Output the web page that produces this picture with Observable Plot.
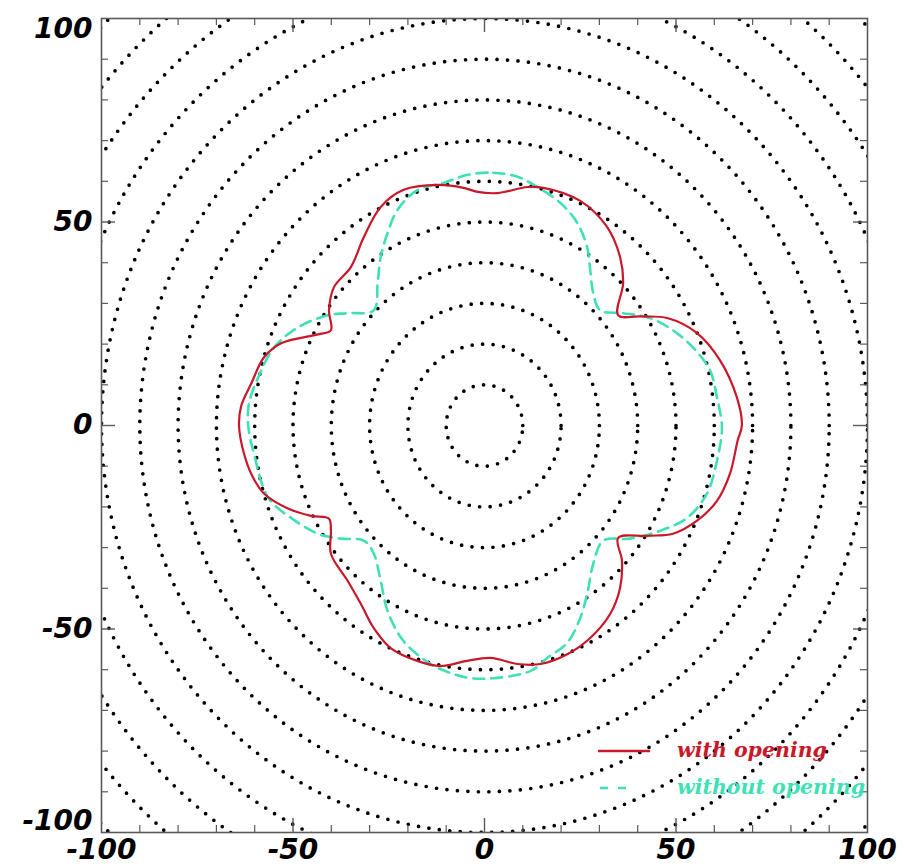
<!DOCTYPE html>
<html>
<head>
<meta charset="utf-8">
<script src="https://cdn.jsdelivr.net/npm/d3@7"></script>
<script src="https://cdn.jsdelivr.net/npm/@observablehq/plot@0.6"></script>
<style>
  html, body { margin: 0; padding: 0; background: #fff; }
  #wrap { position: relative; width: 904px; height: 867px; }
  #legend { position: absolute; left: 0; top: 0; width: 904px; height: 867px; pointer-events: none; }
  .lg { position: absolute; font-family: "DejaVu Serif", serif; font-weight: bold; font-style: italic; font-size: 20.5px; line-height: 1; white-space: nowrap; }
</style>
</head>
<body>
<div id="wrap"></div>
<script>
// ---- data ----
const redX = [-1.8, 3.4, 11.2, 15.4, 25.0, 32.0, 35.4, 36.2, 34.9, 40.6, 47.7, 55.5, 61.5, 65.9, 67.2, 66.1, 64.1, 60.7, 55.5, 49.2, 42.4, 34.9, 35.9, 35.4, 32.8, 27.6, 21.6, 14.6, 8.6, 1.6, -4.9, -11.5, -17.4, -24.5, -28.9, -32.3, -35.7, -40.1, -40.1, -40.6, -45.3, -51.3, -57.6, -60.7, -62.8, -64.1, -63.5, -60.9, -57.6, -53.1, -43.5, -40.1, -40.6, -39.3, -34.9, -31.5, -27.1, -21.1, -12.2, -5.5];
const redY = [57.4, 57.1, 58.6, 58.4, 55.2, 48.8, 41.4, 35.0, 27.1, 26.8, 26.4, 22.7, 16.0, 6.9, 0.0, -3.7, -11.8, -18.5, -23.4, -26.6, -27.1, -27.6, -33.3, -39.9, -46.3, -52.2, -56.2, -58.6, -58.6, -57.1, -57.9, -59.1, -57.9, -54.7, -49.8, -43.8, -38.2, -31.5, -25.9, -22.9, -22.2, -20.4, -16.7, -12.3, -6.9, 0.0, 4.9, 10.3, 16.7, 20.2, 22.4, 23.4, 28.3, 34.0, 38.9, 46.3, 53.7, 57.9, 59.1, 58.4];

const cyanX = [-4.4, 2.3, 8.6, 13.8, 19.8, 24.2, 26.8, 27.6, 28.4, 30.2, 36.2, 43.2, 49.2, 54.4, 58.9, 60.7, 62.0, 60.7, 58.1, 52.9, 45.8, 38.0, 31.0, 28.4, 26.8, 25.0, 21.6, 16.4, 12.8, 9.4, 2.3, -3.6, -8.9, -14.1, -21.1, -25.3, -27.1, -28.9, -31.5, -37.5, -43.5, -50.5, -56.5, -60.2, -61.7, -61.5, -59.1, -54.9, -48.7, -40.9, -35.7, -28.9, -27.9, -27.1, -25.3, -22.7, -17.4, -10.7];
const cyanY = [61.6, 62.1, 61.1, 58.6, 54.7, 49.8, 43.8, 38.2, 32.5, 28.3, 27.6, 26.4, 23.4, 19.2, 13.5, 6.9, -0.5, -8.6, -16.7, -22.7, -25.9, -27.8, -28.3, -34.0, -41.4, -47.3, -53.4, -57.1, -59.9, -61.1, -62.1, -62.1, -60.8, -58.6, -53.0, -45.6, -38.2, -31.5, -28.3, -27.8, -26.6, -22.7, -17.7, -6.9, 0.0, 5.4, 11.8, 19.2, 24.1, 27.1, 27.6, 28.3, 35.0, 41.4, 47.3, 53.0, 57.9, 59.6];

const circleRadii = [10, 20, 30, 40, 50, 60, 70, 80, 90, 100, 110, 120, 130, 140];
const majorTicks = [-100, -50, 0, 50, 100];
const innerMajor = [-50, 0, 50];
const minorTicks = [-90, -80, -70, -60, -40, -30, -20, -10, 10, 20, 30, 40, 60, 70, 80, 90];
const seriesNames = ["with opening", "without opening"];

// ---- build tables ----
const red = redX.map((x, i) => ({x, y: redY[i]}));
const cyan = cyanX.map((x, i) => ({x, y: cyanY[i]}));
const circles = circleRadii.flatMap(r => d3.range(0, 361, 1).map(a => ({
  r, x: r * Math.cos(a * Math.PI / 180), y: r * Math.sin(a * Math.PI / 180)
})));

const W = 904, H = 867, mL = 101, mR = 37, mT = 18, mB = 35;
const pw = W - mL - mR, ph = H - mT - mB;
const RED = "#c8182a", CYAN = "#3fe0b6", AX = "#5a5a5a";
const fontOpts = {fontSize: 28, fontWeight: "bold", fontStyle: "italic", fontFamily: "DejaVu Sans", fill: "#000"};
const fmt = d => String(d);

const chart = Plot.plot({
  width: W, height: H,
  marginLeft: mL, marginRight: mR, marginTop: mT, marginBottom: mB,
  x: {domain: [-100, 100]},
  y: {domain: [-100, 100]},
  marks: [
    Plot.line(circles, {x: "x", y: "y", z: "r", clip: true, stroke: "#000", strokeWidth: 3.7, strokeLinecap: "round", strokeDasharray: "0 10.5"}),
    Plot.line(cyan, {x: "x", y: "y", curve: "catmull-rom-closed", stroke: CYAN, strokeWidth: 2.6, strokeDasharray: "11 7"}),
    Plot.line(red, {x: "x", y: "y", curve: "catmull-rom-closed", stroke: RED, strokeWidth: 2.2}),
    Plot.frame({stroke: AX, strokeWidth: 1.6}),
    // inward ticks
    Plot.tickX(innerMajor, {x: d => d, insetTop: ph - 14, stroke: AX, strokeWidth: 1.4}),
    Plot.tickX(innerMajor, {x: d => d, insetBottom: ph - 14, stroke: AX, strokeWidth: 1.4}),
    Plot.tickX(minorTicks, {x: d => d, insetTop: ph - 7, stroke: AX, strokeWidth: 1.2}),
    Plot.tickX(minorTicks, {x: d => d, insetBottom: ph - 7, stroke: AX, strokeWidth: 1.2}),
    Plot.tickY(innerMajor, {y: d => d, insetRight: pw - 14, stroke: AX, strokeWidth: 1.4}),
    Plot.tickY(innerMajor, {y: d => d, insetLeft: pw - 14, stroke: AX, strokeWidth: 1.4}),
    Plot.tickY(minorTicks, {y: d => d, insetRight: pw - 7, stroke: AX, strokeWidth: 1.2}),
    Plot.tickY(minorTicks, {y: d => d, insetLeft: pw - 7, stroke: AX, strokeWidth: 1.2}),
    // tick labels
    Plot.axisX({ticks: majorTicks, tickSize: 0, tickPadding: 7, tickFormat: fmt, label: null, ...fontOpts}),
    Plot.axisY({ticks: innerMajor, tickSize: 0, tickPadding: 9, tickFormat: fmt, label: null, ...fontOpts}),
    Plot.axisY({ticks: [100], tickSize: 0, tickPadding: 9, tickFormat: fmt, label: null, dy: 11, ...fontOpts}),
    Plot.axisY({ticks: [-100], tickSize: 0, tickPadding: 9, tickFormat: fmt, label: null, dy: -11, ...fontOpts})
  ]
});

const wrap = document.getElementById("wrap");
wrap.appendChild(chart);

// legend overlay (inside the plot area, lower right)
const lg = document.createElement("div");
lg.id = "legend";
lg.innerHTML = `
<svg width="904" height="867" style="position:absolute;left:0;top:0">
  <line x1="598" x2="650" y1="751" y2="751" stroke="${RED}" stroke-width="2.4"/>
  <line x1="600" x2="628" y1="788" y2="788" stroke="${CYAN}" stroke-width="2.6" stroke-dasharray="8 10"/>
</svg>
<div class="lg" style="left:677px;top:740px;color:${RED}">${seriesNames[0]}</div>
<div class="lg" style="left:677px;top:777px;color:${CYAN}">${seriesNames[1]}</div>`;
wrap.appendChild(lg);
</script>
</body>
</html>
